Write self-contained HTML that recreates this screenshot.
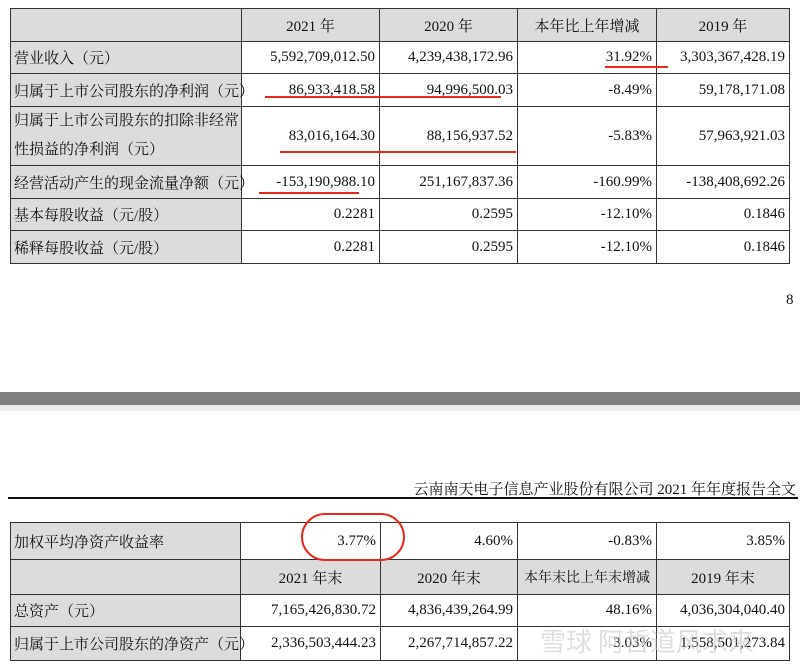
<!DOCTYPE html>
<html><head><meta charset="utf-8"><style>
body{margin:0;width:800px;height:664px;background:#fff;position:relative;overflow:hidden;font-family:"Liberation Serif","Noto Serif CJK SC","Noto Sans CJK SC",serif;color:#111}
table{position:absolute;border-collapse:collapse;table-layout:fixed;font-size:15px}
td{border:1px solid #333;padding:0 4px;text-align:right;white-space:nowrap;overflow:visible}
td.l{text-align:left;background:#dcdcdc;padding-left:3px}
tr.h td{background:#dcdcdc;text-align:center}
.r{position:absolute;background:#e8291c;height:2px}
</style></head><body>
<table style="left:10px;top:8px;width:779px">
<colgroup><col style="width:231px"><col style="width:138px"><col style="width:138px"><col style="width:139px"><col style="width:133px"></colgroup>
<tr class="h" style="height:33px"><td class="l"></td><td>2021 年</td><td>2020 年</td><td>本年比上年增减</td><td>2019 年</td></tr>
<tr style="height:32px"><td class="l">营业收入（元）</td><td>5,592,709,012.50</td><td>4,239,438,172.96</td><td>31.92%</td><td>3,303,367,428.19</td></tr>
<tr style="height:33px"><td class="l">归属于上市公司股东的净利润（元）</td><td>86,933,418.58</td><td>94,996,500.03</td><td>-8.49%</td><td>59,178,171.08</td></tr>
<tr style="height:58px"><td class="l" style="line-height:29px">归属于上市公司股东的扣除非经常<br>性损益的净利润（元）</td><td>83,016,164.30</td><td>88,156,937.52</td><td>-5.83%</td><td>57,963,921.03</td></tr>
<tr style="height:33px"><td class="l">经营活动产生的现金流量净额（元）</td><td>-153,190,988.10</td><td>251,167,837.36</td><td>-160.99%</td><td>-138,408,692.26</td></tr>
<tr style="height:32px"><td class="l">基本每股收益（元/股）</td><td>0.2281</td><td>0.2595</td><td>-12.10%</td><td>0.1846</td></tr>
<tr style="height:33px"><td class="l">稀释每股收益（元/股）</td><td>0.2281</td><td>0.2595</td><td>-12.10%</td><td>0.1846</td></tr>
</table>
<div style="position:absolute;left:786px;top:292px;font-size:15px">8</div>
<div style="position:absolute;left:0;top:392px;width:800px;height:13px;background:#808080"></div>
<div style="position:absolute;left:0;top:405px;width:800px;height:6px;background:#eee"></div>
<div style="position:absolute;right:4px;top:478px;font-size:15px">云南南天电子信息产业股份有限公司 2021 年年度报告全文</div>
<div style="position:absolute;left:8px;top:497px;width:790px;height:2px;background:#111"></div>
<table style="left:10px;top:522px;width:779px">
<colgroup><col style="width:230px"><col style="width:140px"><col style="width:137px"><col style="width:139px"><col style="width:133px"></colgroup>
<tr style="height:37px"><td class="l">加权平均净资产收益率</td><td>3.77%</td><td>4.60%</td><td>-0.83%</td><td>3.85%</td></tr>
<tr class="h" style="height:35px"><td class="l"></td><td>2021 年末</td><td>2020 年末</td><td style="font-size:14px">本年末比上年末增减</td><td>2019 年末</td></tr>
<tr style="height:32px"><td class="l">总资产（元）</td><td>7,165,426,830.72</td><td>4,836,439,264.99</td><td>48.16%</td><td>4,036,304,040.40</td></tr>
<tr style="height:34px"><td class="l">归属于上市公司股东的净资产（元）</td><td>2,336,503,444.23</td><td>2,267,714,857.22</td><td>3.03%</td><td>1,558,501,273.84</td></tr>
</table>
<div class="r" style="left:605px;top:66px;width:63px"></div>
<div class="r" style="left:265px;top:96px;width:236px"></div>
<div class="r" style="left:280px;top:151px;width:236px"></div>
<div class="r" style="left:259px;top:192px;width:100px"></div>
<div style="position:absolute;left:301px;top:513px;width:100px;height:44px;border:2px solid #e8291c;border-radius:28px"></div>
<div style="position:absolute;left:540px;top:622px;font-size:26px;color:rgba(200,200,200,0.6);font-family:'Noto Sans CJK SC',sans-serif">雪球 阿哲道风求来</div>
</body></html>
